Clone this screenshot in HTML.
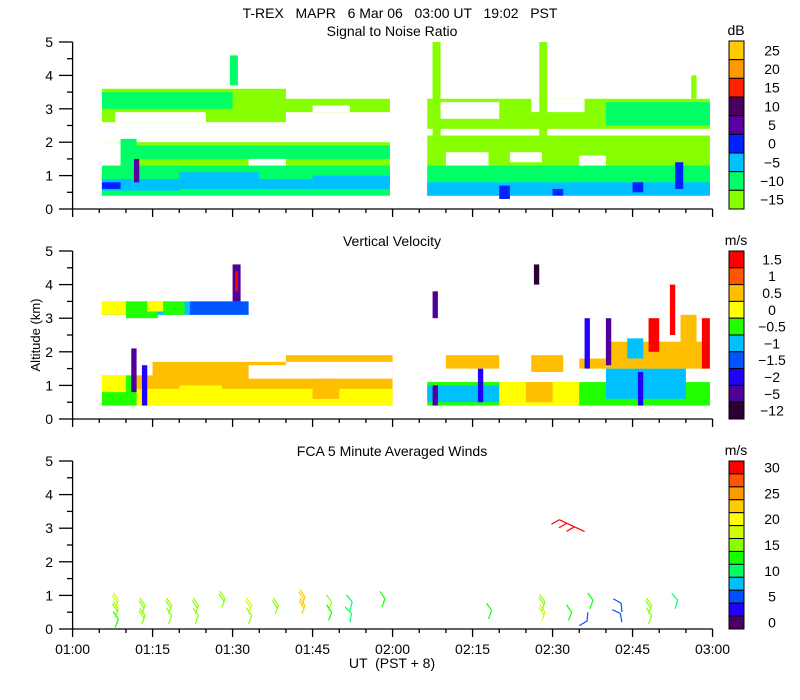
<!DOCTYPE html>
<html><head><meta charset="utf-8"><style>
body{margin:0;background:#fff}
svg{display:block}
text{font-family:"Liberation Sans",sans-serif;font-size:14px;fill:#000}
</style></head><body>
<svg id="c" width="800" height="700" viewBox="0 0 800 700">
<text x="400" y="18" text-anchor="middle" xml:space="preserve">T-REX   MAPR   6 Mar 06   03:00 UT   19:02   PST</text>
<text x="392" y="36" text-anchor="middle">Signal to Noise Ratio</text>
<text x="392" y="246" text-anchor="middle">Vertical Velocity</text>
<text x="392" y="456" text-anchor="middle">FCA 5 Minute Averaged Winds</text>
<text x="392" y="668" text-anchor="middle" xml:space="preserve">UT  (PST + 8)</text>
<text transform="translate(40,335) rotate(-90)" text-anchor="middle" style="font-size:13px">Altitude (km)</text>
<g id="g"></g>
</svg>
<script>
// ---- data ----
const timeTicks = ["01:00","01:15","01:30","01:45","02:00","02:15","02:30","02:45","03:00"];
const altTicks = [0,1,2,3,4,5];
const snrLabels = [25,20,15,10,5,0,-5,-10,-15];
const snrColors = ["#ffcc00","#ff9900","#ff2200","#4b0060","#5a00a0","#0022ff","#00c0ff","#00ff66","#88ff00"];
const velLabels = [1.5,1,0.5,0,-0.5,-1,-1.5,-2,-5,-12];
const velColors = ["#ff0000","#ff5500","#ffbf00","#ffff00","#22ff00","#00c0ff","#0055ff","#2200ff","#50009a","#2a0035"];
const windLabels = [30,25,20,15,10,5,0];
const windColors = ["#ff0000","#ff5500","#ff9900","#ffcc00","#ffff00","#ccff00","#88ff00","#11ff00","#00ff66","#00c0ff","#0050ff","#2000ff","#4b0068"];
// patches: [t0 (min after 01:00), t1, z0 (km), z1, value]  null = no data
const snrPatches = [
 [5.5,59.5,0.4,2.0,-15],[5.5,59.5,0.4,1.3,-10],[5.5,9,1.3,2.0,null],[9,12,1.3,2.1,-10],
 [5.5,20,0.55,0.9,-5],[20,35,0.6,1.1,-5],[35,45,0.6,0.9,-5],[45,59.5,0.6,1.0,-5],
 [5.5,9,0.6,0.8,0],[11.5,12.5,0.8,1.5,5],[33,40,1.3,1.6,null],[12,59.5,1.5,1.9,-10],
 [5.5,40,2.6,3.6,-15],[5.5,30,3.0,3.5,-10],[8,25,2.6,2.9,null],[40,59.5,2.9,3.3,-15],
 [45,52,2.9,3.1,null],[29.5,31,3.7,4.6,-10],
 [66.5,119.5,0.4,2.2,-15],[66.5,119.5,0.4,1.3,-10],[66.5,119.5,0.4,0.8,-5],
 [80,82,0.3,0.7,0],[105,107,0.5,0.8,0],[90,92,0.4,0.6,0],
 [70,78,1.3,1.7,null],[82,88,1.4,1.7,null],[95,100,1.3,1.6,null],
 [66.5,119.5,2.4,3.3,-15],[100,119.5,2.5,3.2,-10],[68,80,2.7,3.2,null],[86,96,2.9,3.3,null],
 [67.5,69,2.2,5.0,-15],[87.5,89,2.2,5.0,-15],[113,114.5,0.6,1.4,0],[116,117,3.3,4.0,-15]
];
const velPatches = [
 [5.5,33,3.1,3.5,-1],[5.5,10,3.1,3.5,0],[10,16,3.0,3.5,-0.5],[14,17,3.2,3.5,0],
 [17,21,3.1,3.5,-0.5],[22,33,3.1,3.5,-1.5],[30,31.5,3.5,4.6,-5],[30.5,31,3.8,4.4,1.5],
 [5.5,60,0.4,1.9,0.5],[5.5,60,0.4,0.9,0],[5.5,12,0.4,1.3,-0.5],[5.5,10,0.8,1.3,0],
 [5.5,15,1.3,2.0,null],[15,40,1.7,2.0,null],[33,40,1.2,1.6,null],[40,60,1.2,1.7,null],
 [11,12,0.8,2.1,-5],[13,14,0.4,1.6,-2],[20,28,0.5,1.0,0],[45,50,0.6,1.2,0.5],
 [66.5,119.5,0.4,1.1,-0.5],[66.5,80,0.5,1.0,-1],[80,95,0.4,1.1,0],[85,90,0.5,1.1,0.5],
 [95,119.5,0.4,1.0,-0.5],[100,115,0.6,1.5,-1],[67.5,68.5,0.4,1.0,-5],[76,77,0.5,1.5,-2],
 [70,80,1.5,1.9,0.5],[86,92,1.4,1.9,0.5],[95,100,1.5,1.8,0.5],[100,119.5,1.5,2.3,0.5],
 [108,110,2.0,3.0,1.5],[118,119.5,1.5,3.0,1.5],[100,101,1.6,3.0,-5],[112,113,2.5,4.0,1.5],
 [104,107,1.8,2.4,-1],[114,117,1.6,3.1,0.5],[96,97,1.5,3.0,-2],[67.5,68.5,3.0,3.8,-5],
 [86.5,87.5,4.0,4.6,-12],[106,107,0.4,1.4,-2]
];
// wind barbs: [t, z, speed (m/s), direction (deg)]
const winds = [
 [8,0.05,13,20],[8,0.35,15,20],[8,0.6,17,20],[13,0.15,16,20],[13,0.45,15,20],
 [18,0.15,14,20],[18,0.45,15,20],[23,0.15,14,20],[23,0.45,16,20],[28,0.65,16,20],
 [33,0.15,14,20],[33,0.45,17,20],[38,0.45,16,20],[43,0.45,23,20],[43,0.7,22,20],
 [48,0.25,13,20],[48,0.55,14,20],[52,0.2,9,10],[52,0.55,9,15],[58,0.65,13,20],
 [78,0.3,13,20],[88,0.25,17,20],[88,0.55,15,20],[93,0.25,12,20],[95,0.1,6,60],
 [97,0.6,12,20],[103,0.2,5,350],[103,0.5,4,355],[108,0.15,14,20],[108,0.45,16,20],
 [113,0.6,9,15],[96,2.9,30,295]
];
// ---- scales ----
const X = t => 72.6 + t*5.333;
const panels = [{y0:209,y5:42},{y0:419,y5:251},{y0:629,y5:461}];
const Y = (p,z) => p.y0 - (p.y0-p.y5)*z/5;
const NS = "http://www.w3.org/2000/svg";
const g = document.getElementById('g');
function mk(tag, at, parent){const e=document.createElementNS(NS,tag);for(const k in at)e.setAttribute(k,at[k]);(parent||g).appendChild(e);return e;}
function nearest(labels,v){let b=0;for(let i=1;i<labels.length;i++)if(Math.abs(labels[i]-v)<Math.abs(labels[b]-v))b=i;return b;}
function drawPatches(p, patches, labels, colors){
  const grp = mk('g',{});
  
  
  patches.forEach(d=>{
    const c = d[4]===null ? "#ffffff" : colors[nearest(labels,d[4])];
    const r = mk('rect',{x:X(d[0]),y:Y(p,d[3]),width:X(d[1])-X(d[0]),height:Y(p,d[2])-Y(p,d[3]),fill:c},grp);
    
    
  });
}
drawPatches(panels[0], snrPatches, snrLabels, snrColors);
drawPatches(panels[1], velPatches, velLabels, velColors);
// winds
function windColor(s){return windColors[Math.max(0,Math.min(12,Math.round((30-s)/2.5)))];}
winds.forEach(w=>{
  const p=panels[2], x=X(w[0]), y=Y(p,w[1]), a=w[3]*Math.PI/180, L=w[2]>25?28:9;
  const ex=x+L*Math.sin(a), ey=y-L*Math.cos(a);
  const col=windColor(w[2]);
  const bg=mk('g',{stroke:col,'stroke-width':1.2,fill:'none'});
  
  
  mk('line',{x1:x,y1:y,x2:ex,y2:ey},bg);
  const n=Math.max(1,Math.round(w[2]/10));
  for(let i=0;i<n;i++){
    const f=1-i*0.3, bx=x+L*f*Math.sin(a), by=y-L*f*Math.cos(a), ba=a-55*Math.PI/180;
    mk('line',{x1:bx,y1:by,x2:bx+9*Math.sin(ba),y2:by-9*Math.cos(ba)},bg);
  }
});
// axes
panels.forEach((p,pi)=>{
  const ax=mk('g',{stroke:'#000','stroke-width':1.3});
  
  
  mk('line',{x1:72.6,y1:p.y5,x2:72.6,y2:p.y0},ax);
  mk('line',{x1:72.6,y1:p.y0,x2:712.6,y2:p.y0},ax);
  for(let z=0;z<=5;z+=0.5){const yy=Y(p,z);mk('line',{x1:z%1===0?59:67,y1:yy,x2:72.6,y2:yy},ax);}
  for(let t=0;t<=120;t+=5){const xx=X(t);mk('line',{x1:xx,y1:p.y0,x2:xx,y2:p.y0+(t%15===0?8:4)},ax);}
  altTicks.forEach(z=>{const tx=mk('text',{x:53,y:Y(p,z)+5,'text-anchor':'end'});tx.textContent=z;
    });
});
timeTicks.forEach((s,i)=>{const tx=mk('text',{x:X(i*15),y:654,'text-anchor':'middle'});tx.textContent=s;
  });
// colorbars
function colorbar(top,bot,colors,labels,unit,labelCell){
  const cb=mk('g',{});
  
  
  const h=(bot-top)/colors.length;
  colors.forEach((c,i)=>mk('rect',{x:729,y:top+i*h,width:15,height:h,fill:c,stroke:'#000','stroke-width':1},cb));
  labels.forEach((l,i)=>{const ci=labelCell(i);const tx=mk('text',{x:772,y:top+(ci+0.5)*h+5,'text-anchor':'middle'},cb);
    tx.textContent=String(l).replace('-','\u2212');
    });
  const u=mk('text',{x:736,y:top-6,'text-anchor':'middle'},cb);u.textContent=unit;
  
}
colorbar(41,209,snrColors,snrLabels,'dB',i=>i);
colorbar(251,419,velColors,velLabels,'m/s',i=>i);
colorbar(461,629,windColors,windLabels,'m/s',i=>i*2);
</script>
</body></html>
